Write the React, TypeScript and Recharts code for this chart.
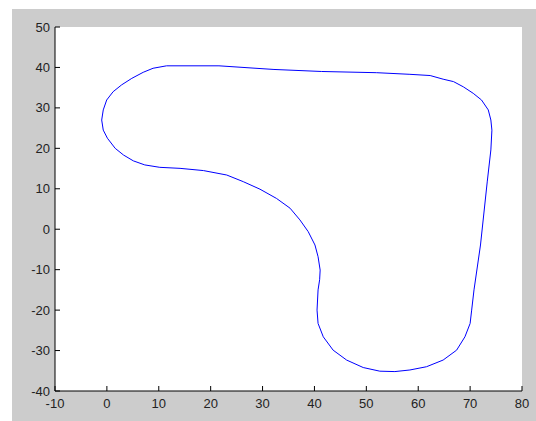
import { CartesianGrid, Line, LineChart, XAxis, YAxis } from "recharts"

// closed track outline (clockwise from the leftmost point)
const trackX = [
  -1.0, -0.7, -0.04, 1.2, 2.85, 4.8, 7.0, 8.9, 11.5, 21.6, 32.2, 41.4, 52.0, 58.4,
  62.3, 64.8, 66.8, 68.7, 70.6, 72.2, 73.5, 74.0, 74.2, 74.0, 73.3, 72.0, 70.75, 70.3,
  70.0, 69.0, 67.4, 64.8, 61.6, 58.4, 55.5, 52.6, 49.4, 46.2, 43.6, 41.7, 40.7, 40.5,
  40.7, 41.0, 41.1, 40.7, 40.1, 38.8, 37.2, 35.3, 32.7, 29.5, 26.3, 23.1, 18.6, 14.1,
  10.2, 7.3, 5.1, 3.2, 1.6, 0.1, -0.7, -1.0,
]
const trackY = [
  27.0, 29.5, 31.95, 34.0, 35.7, 37.3, 38.8, 39.8, 40.4, 40.4, 39.5, 39.0, 38.7, 38.3,
  38.0, 37.1, 36.5, 35.2, 33.6, 31.95, 29.5, 27.0, 24.5, 19.6, 11.7, -3.9, -15.0, -20.0,
  -23.3, -26.6, -29.9, -32.35, -34.0, -34.8, -35.2, -35.1, -34.2, -32.35, -29.9, -26.6, -23.3, -20.0,
  -15.0, -12.5, -10.1, -6.8, -3.9, -0.6, 2.3, 5.2, 7.6, 9.9, 11.75, 13.4, 14.5, 15.05,
  15.3, 15.9, 16.9, 18.35, 20.0, 22.5, 24.5, 27.0,
]

const xTicks = [-10, 0, 10, 20, 30, 40, 50, 60, 70, 80]
const yTicks = [-40, -30, -20, -10, 0, 10, 20, 30, 40, 50]

const points = trackX.map((x, i) => ({ x, y: trackY[i] }))

const font = "'Liberation Sans', Arial, sans-serif"
const TICK = 5

const BottomTick = ({ x, y, payload }: any) => (
  <g>
    <line x1={x} y1={y} x2={x} y2={y - TICK} stroke="#000" />
    <text x={x} y={y + 17} textAnchor="middle" fontSize={13} fontFamily={font} fill="#222">
      {payload.value}
    </text>
  </g>
)

const TopTick = ({ x, y }: any) => <line x1={x} y1={y} x2={x} y2={y + TICK} stroke="#000" />

const LeftTick = ({ x, y, payload }: any) => (
  <g>
    <line x1={x} y1={y} x2={x + TICK} y2={y} stroke="#000" />
    <text x={x - 5} y={y + 4.5} textAnchor="end" fontSize={13} fontFamily={font} fill="#222">
      {payload.value}
    </text>
  </g>
)

const RightTick = ({ x, y }: any) => <line x1={x} y1={y} x2={x - TICK} y2={y} stroke="#000" />

export default function App() {
  return (
    <div style={{ position: "absolute", left: 0, top: 0, width: 536, height: 421, background: "#fff" }}>
      <div style={{ position: "absolute", left: 12, top: 9, right: 0, bottom: 0, background: "#cccccc" }} />
      <div style={{ position: "absolute", left: 0, top: 0 }}>
        <LineChart width={536} height={421} data={points} margin={{ top: 27, right: 14, bottom: 0, left: 0 }}>
          <CartesianGrid horizontal={false} vertical={false} fill="#fff" />
          <XAxis
            type="number"
            dataKey="x"
            domain={[-10, 80]}
            ticks={xTicks}
            allowDataOverflow
            height={30}
            tickSize={0}
            tickMargin={0}
            tick={<BottomTick />}
            axisLine={{ stroke: "#000" }}
          />
          <XAxis
            xAxisId="top"
            orientation="top"
            type="number"
            domain={[-10, 80]}
            ticks={xTicks}
            allowDataOverflow
            height={0}
            tickSize={0}
            tickMargin={0}
            tick={<TopTick />}
            axisLine={{ stroke: "#000" }}
          />
          <YAxis
            type="number"
            domain={[-40, 50]}
            ticks={yTicks}
            allowDataOverflow
            width={55}
            tickSize={0}
            tickMargin={0}
            tick={<LeftTick />}
            axisLine={{ stroke: "#000" }}
          />
          <YAxis
            yAxisId="right"
            orientation="right"
            type="number"
            domain={[-40, 50]}
            ticks={yTicks}
            allowDataOverflow
            width={0}
            tickSize={0}
            tickMargin={0}
            tick={<RightTick />}
            axisLine={{ stroke: "#000" }}
          />
          <Line
            type="linear"
            dataKey="y"
            stroke="#0000ff"
            strokeWidth={1}
            dot={false}
            isAnimationActive={false}
          />
        </LineChart>
      </div>
    </div>
  )
}
